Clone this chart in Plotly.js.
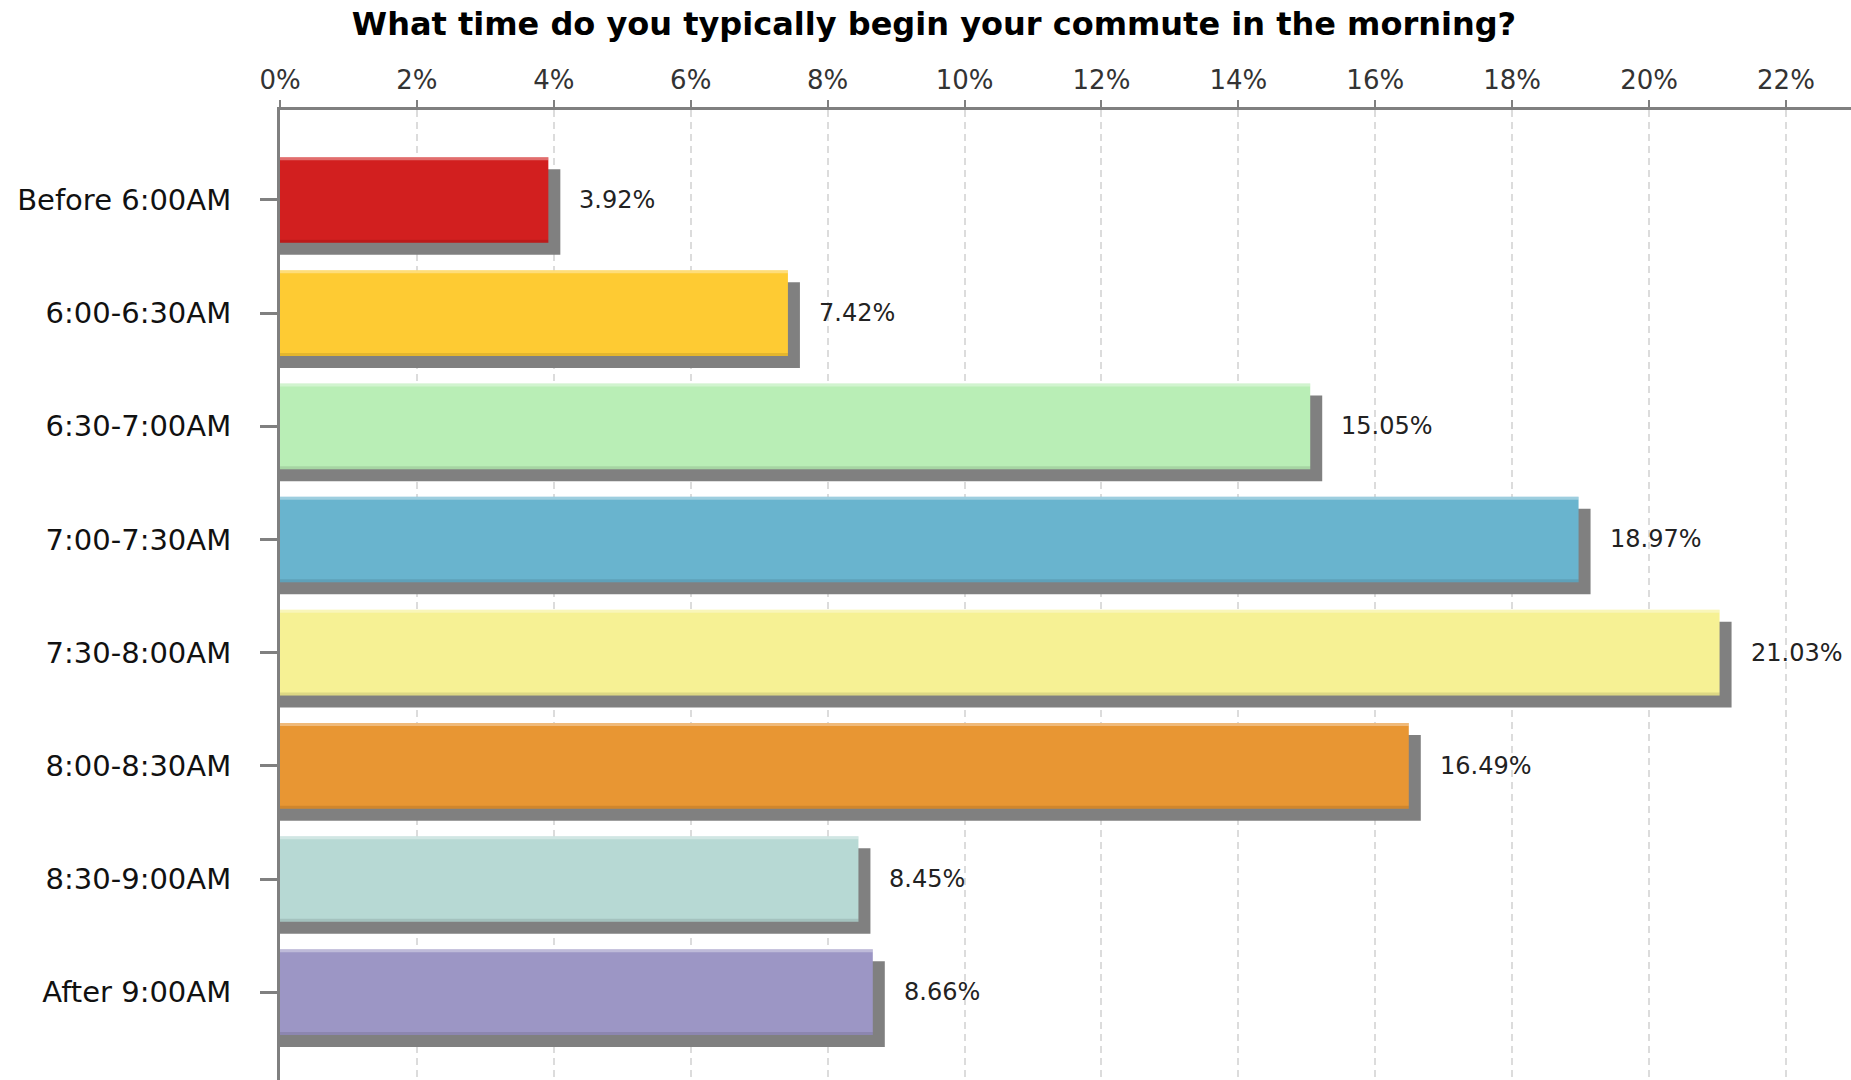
<!DOCTYPE html>
<html>
<head>
<meta charset="utf-8">
<script src="https://cdn.plot.ly/plotly-3.0.1.min.js"></script>
<style>
  html, body { margin: 0; padding: 0; background: #ffffff; }
  #chart { width: 1851px; height: 1080px; }
</style>
</head>
<body>
<div id="chart"></div>
<script>
const chartTitle = "What time do you typically begin your commute in the morning?";
const categories = ["Before 6:00AM", "6:00-6:30AM", "6:30-7:00AM", "7:00-7:30AM", "7:30-8:00AM", "8:00-8:30AM", "8:30-9:00AM", "After 9:00AM"];
const values = [3.92, 7.42, 15.05, 18.97, 21.03, 16.49, 8.45, 8.66];
const valueLabels = ["3.92%", "7.42%", "15.05%", "18.97%", "21.03%", "16.49%", "8.45%", "8.66%"];
const barColors = ["#D21F1F", "#FECB33", "#B9EEB6", "#69B4CE", "#F6F194", "#E89633", "#B7D9D4", "#9C96C5"];
const tickValues = [0, 2, 4, 6, 8, 10, 12, 14, 16, 18, 20, 22];
const tickLabels = ["0%", "2%", "4%", "6%", "8%", "10%", "12%", "14%", "16%", "18%", "20%", "22%"];

// styling constants
const W = 1851, H = 1080;
const mL = 280, mT = 110;
const xMax = 22.95;
const pxPerUnitX = (W - mL) / xMax;
const yTop = -0.795, yBottom = 7.776;
const pxPerUnitY = (H - mT) / (yBottom - yTop);
const barW = 0.757;
const shadowPx = 12;
const shadowDx = shadowPx / pxPerUnitX;
const shadowDy = shadowPx / pxPerUnitY;
const stripe = 3 / pxPerUnitY;

const shadow = {
  type: "bar", orientation: "h",
  y: categories, x: values.map(v => v + shadowDx),
  width: barW, offset: -barW / 2 + shadowDy,
  marker: { color: "#808080", line: { width: 0 } },
  hoverinfo: "skip", showlegend: false
};
const bars = {
  type: "bar", orientation: "h",
  y: categories, x: values,
  width: barW, offset: -barW / 2,
  marker: { color: barColors, line: { width: 0 } },
  hovertemplate: "%{y}: %{x:.2f}%<extra></extra>", showlegend: false
};
const topHighlight = {
  type: "bar", orientation: "h",
  y: categories, x: values,
  width: stripe, offset: -barW / 2,
  marker: { color: "rgba(255,255,255,0.35)", line: { width: 0 } },
  hoverinfo: "skip", showlegend: false
};
const bottomShade = {
  type: "bar", orientation: "h",
  y: categories, x: values,
  width: stripe, offset: barW / 2 - stripe,
  marker: { color: "rgba(0,0,0,0.10)", line: { width: 0 } },
  hoverinfo: "skip", showlegend: false
};

const annotations = categories.map((c, i) => ({
  x: values[i], y: c, xref: "x", yref: "y",
  text: valueLabels[i], showarrow: false,
  xanchor: "left", yanchor: "middle", xshift: 29,
  font: { family: "DejaVu Sans, Verdana, sans-serif", size: 24, color: "#222222" }
}));

const layout = {
  width: W, height: H,
  margin: { l: mL, r: 0, t: mT, b: 0, pad: 0 },
  paper_bgcolor: "#ffffff", plot_bgcolor: "#ffffff",
  barmode: "overlay",
  title: {
    text: "<b>" + chartTitle + "</b>",
    x: 0.5046, xanchor: "center",
    y: 1 - 24 / H, yanchor: "middle",
    font: { family: "DejaVu Sans, Verdana, sans-serif", size: 32, color: "#000000" }
  },
  xaxis: {
    side: "top", range: [0, xMax],
    tickmode: "array", tickvals: tickValues, ticktext: tickLabels,
    showline: true, linecolor: "#808080", linewidth: 3,
    ticks: "outside", ticklen: 7, tickwidth: 2, tickcolor: "#808080",
    showgrid: true, gridcolor: "#dcdcdc", gridwidth: 2, griddash: "7px,5px",
    zeroline: false, ticklabelstandoff: 1,
    tickfont: { family: "DejaVu Sans, Verdana, sans-serif", size: 26, color: "#333333" }
  },
  yaxis: {
    type: "category", range: [yBottom, yTop],
    showline: true, linecolor: "#808080", linewidth: 3,
    ticks: "outside", ticklen: 17, tickwidth: 3, tickcolor: "#808080",
    showgrid: false, zeroline: false, ticklabelstandoff: 23,
    tickfont: { family: "DejaVu Sans, Verdana, sans-serif", size: 29, color: "#111111" }
  },
  annotations: annotations
};

Plotly.newPlot("chart", [shadow, bars, topHighlight, bottomShade], layout, { displayModeBar: false, staticPlot: true });
</script>
</body>
</html>
